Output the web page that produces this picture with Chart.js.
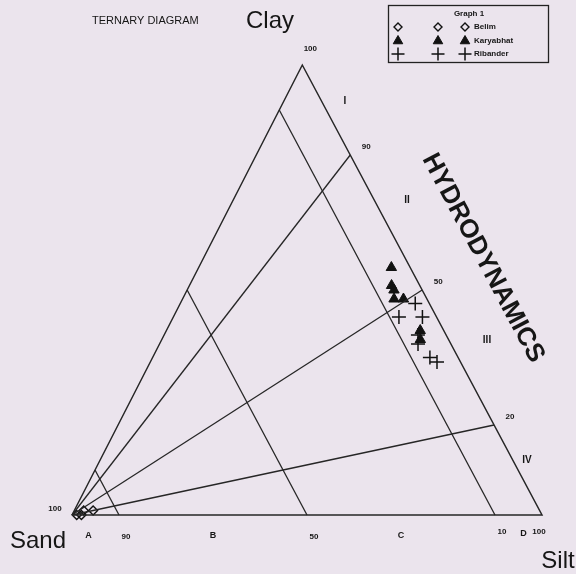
<!DOCTYPE html>
<html>
<head>
<meta charset="utf-8">
<script src="https://cdn.jsdelivr.net/npm/chart.js@4.4.0/dist/chart.umd.min.js"></script>
<style>
  html, body { margin: 0; padding: 0; background: #ebe4ed; }
  #wrap { width: 576px; height: 574px; }
</style>
</head>
<body>
<div id="wrap"><canvas id="ternary" width="576" height="574"></canvas></div>
<script>
// sample compositions in %: sand, silt, clay
const belimSand = [99, 97, 95, 98];
const belimSilt = [1, 2, 4, 2];
const belimClay = [0, 1, 1, 0];

const karyabhatSand = [4, 6, 6, 7, 5, 5, 6];
const karyabhatSilt = [41, 43, 44, 45, 47, 54, 55];
const karyabhatClay = [55, 51, 50, 48, 48, 41, 39];

const ribandarSand = [8, 3, 3, 6, 7, 6, 5];
const ribandarSilt = [48, 50, 53, 54, 55, 59, 61];
const ribandarClay = [44, 47, 44, 40, 38, 35, 34];

// division lines
const sandLines = [90, 50, 10];            // sand %, splits groups A-D
const sandLineLabels = ['90', '50', '10'];
const groupLabels = ['A', 'B', 'C', 'D'];
const groupMidSand = [95, 70, 30, 5];
const clayRatioLines = [80, 50, 20];       // clay % of the mud fraction
const clayRatioLabels = ['90', '50', '20'];
const sectionLabels = ['I', 'II', 'III', 'IV'];

const seriesNames = ['Belim', 'Karyabhat', 'Ribander'];

// clay corner sits a bit left of the middle of the base
const APEX = 49;

function toXY(sand, silt, clay) {
    return { x: silt + clay * APEX / 100, y: clay };
}

function points(sand, silt, clay) {
    return sand.map((s, i) => toXY(s, silt[i], clay[i]));
}

const lineColor = '#262626';

function lineSet(pts, width) {
    return {
        type: 'line',
        data: pts,
        borderColor: lineColor,
        borderWidth: width || 1.3,
        pointRadius: 0,
        fill: false,
        tension: 0,
        clip: false
    };
}

const datasets = [];
// triangle frame
datasets.push(lineSet([toXY(100, 0, 0), toXY(0, 100, 0), toXY(0, 0, 100), toXY(100, 0, 0)], 1.5));
sandLines.forEach(s => datasets.push(lineSet([toXY(s, 100 - s, 0), toXY(s, 0, 100 - s)])));
clayRatioLines.forEach(r => datasets.push(lineSet([toXY(100, 0, 0), toXY(0, 100 - r, r)])));

const markerStyles = [
    { pointStyle: 'rectRot', pointRadius: 4.5, backgroundColor: 'rgba(0,0,0,0)', borderColor: '#111', pointBorderWidth: 1.4 },
    { pointStyle: 'triangle', pointRadius: 6, backgroundColor: '#111', borderColor: '#111', pointBorderWidth: 1 },
    { pointStyle: 'cross', pointRadius: 7, backgroundColor: '#111', borderColor: '#111', pointBorderWidth: 1.5 }
];

const seriesPoints = [
    points(belimSand, belimSilt, belimClay),
    points(karyabhatSand, karyabhatSilt, karyabhatClay),
    points(ribandarSand, ribandarSilt, ribandarClay)
];

seriesPoints.forEach((pts, i) => {
    datasets.push(Object.assign({
        type: 'scatter',
        label: seriesNames[i],
        data: pts,
        showLine: false,
        clip: false
    }, markerStyles[i]));
});

const labelPlugin = {
    id: 'ternaryLabels',
    afterDraw(chart) {
        const ctx = chart.ctx;
        const xs = chart.scales.x, ys = chart.scales.y;
        const pix = p => [xs.getPixelForValue(p.x), ys.getPixelForValue(p.y)];
        const fam = '"Liberation Sans", Arial, sans-serif';
        const narrow = '"Liberation Sans Narrow", "Liberation Sans", Arial, sans-serif';

        function text(str, x, y, font, align) {
            ctx.save();
            ctx.font = font;
            ctx.fillStyle = '#161616';
            ctx.textAlign = align || 'center';
            ctx.textBaseline = 'middle';
            ctx.fillText(str, x, y);
            ctx.restore();
        }

        const small = 'bold 8px ' + narrow;
        const roman = 'bold 10px ' + fam;

        // title and corner names
        text('TERNARY DIAGRAM', 92, 21, '11px ' + fam, 'left');
        text('Clay', 270, 21, '24px ' + narrow);
        text('Sand', 38, 541, '24px ' + narrow);
        text('Silt', 558, 561, '24px ' + narrow);

        const sandC = pix(toXY(100, 0, 0));
        const siltC = pix(toXY(0, 100, 0));
        const clayC = pix(toXY(0, 0, 100));
        text('100', clayC[0] + 8, clayC[1] - 16, small);
        text('100', sandC[0] - 17, sandC[1] - 6, small);
        text('100', siltC[0] - 3, siltC[1] + 17, small);

        // sand % labels along the base
        sandLines.forEach((s, i) => {
            const p = pix(toXY(s, 100 - s, 0));
            text(sandLineLabels[i], p[0] + 7, p[1] + (s === 10 ? 17 : 22), small);
        });
        groupLabels.forEach((g, i) => {
            const s = groupMidSand[i];
            const p = pix(toXY(s, 100 - s, 0));
            text(g, p[0] - (i === 0 ? 7 : 0) + (i === 3 ? 5 : 0), p[1] + (i === 3 ? 19 : 21), 'bold 9px ' + fam);
        });

        // clay ratio labels on the right side
        clayRatioLines.forEach((r, i) => {
            const p = pix(toXY(0, 100 - r, r));
            text(clayRatioLabels[i], p[0] + 16, p[1] - 8, small);
        });
        const sectionPos = [[345, 101], [407, 200], [487, 340], [527, 460]];
        sectionLabels.forEach((t, i) => text(t, sectionPos[i][0], sectionPos[i][1], roman));

        // side caption
        ctx.save();
        ctx.translate(483, 258);
        ctx.rotate(Math.atan2(clayC[1] - siltC[1], clayC[0] - siltC[0]) + Math.PI);
        text('HYDRODYNAMICS', 0, 0, 'bold 26px ' + fam);
        ctx.restore();

        // legend box
        ctx.save();
        ctx.strokeStyle = '#222';
        ctx.lineWidth = 1.3;
        ctx.strokeRect(388.5, 5.5, 160, 57);
        ctx.restore();
        text('Graph 1', 469, 14, small);
        const cols = [398, 438, 465];
        const rows = [27, 41, 54];
        seriesNames.forEach((name, i) => {
            const m = markerStyles[i];
            cols.forEach(cx => {
                ctx.save();
                ctx.strokeStyle = m.borderColor;
                ctx.fillStyle = m.backgroundColor;
                ctx.lineWidth = m.pointBorderWidth;
                Chart.helpers.drawPoint(ctx, {
                    pointStyle: m.pointStyle,
                    radius: m.pointRadius - 0.5,
                    rotation: 0,
                    borderWidth: m.pointBorderWidth
                }, cx, rows[i]);
                ctx.restore();
            });
            text(name, 474, rows[i], small, 'left');
        });
    }
};

new Chart(document.getElementById('ternary'), {
    type: 'scatter',
    data: { datasets: datasets },
    options: {
        responsive: false,
        animation: false,
        layout: { padding: { left: 72, right: 34, top: 65, bottom: 59 } },
        scales: {
            x: { type: 'linear', min: 0, max: 100, display: false },
            y: { type: 'linear', min: 0, max: 100, display: false }
        },
        plugins: {
            legend: { display: false },
            tooltip: { enabled: false }
        }
    },
    plugins: [labelPlugin]
});
</script>
</body>
</html>
